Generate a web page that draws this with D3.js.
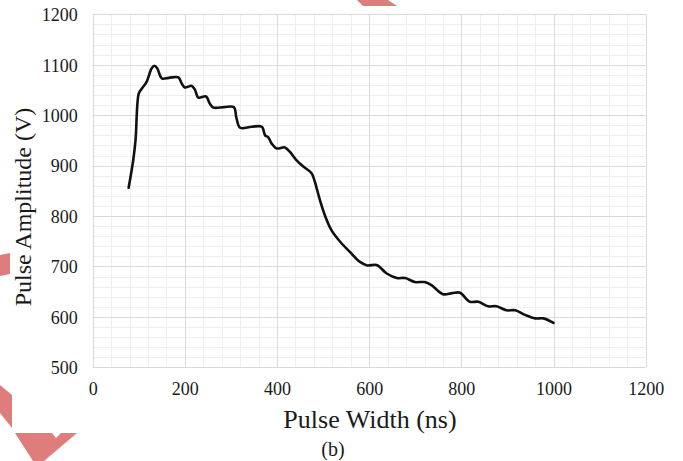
<!DOCTYPE html>
<html>
<head>
<meta charset="utf-8">
<script src="https://cdn.jsdelivr.net/npm/d3@7"></script>
<style>
  html, body { margin: 0; padding: 0; background: #fff; }
  svg { display: block; }
  text { font-family: "Liberation Serif", "Times New Roman", serif; fill: #1a1a1a; }
</style>
</head>
<body>
<svg id="chart" width="683" height="461"></svg>
<script>
// ---- data ----
const pulseWidth = [78, 88, 93, 100, 106, 117, 128, 134, 140, 150, 165, 186, 193, 200, 215, 222, 229, 246, 254, 262, 285, 306, 312, 320, 345, 367, 374, 381, 388, 399, 417, 428, 442, 457, 475, 482, 493, 504, 518, 537, 558, 580, 596, 616, 638, 660, 678, 699, 720, 735, 760, 780, 797, 818, 837, 858, 876, 898, 917, 938, 960, 978, 1000];
const pulseAmplitude = [856, 911, 951, 1043, 1052, 1066, 1093, 1098, 1093, 1073, 1074, 1075, 1063, 1055, 1058, 1050, 1035, 1037, 1023, 1015, 1016, 1016, 994, 975, 977, 977, 960, 956, 944, 934, 936, 927, 911, 898, 885, 868, 832, 801, 772, 749, 729, 709, 702, 703, 686, 677, 677, 669, 669, 663, 645, 647, 648, 630, 630, 621, 621, 613, 613, 604, 597, 597, 588];
const xTicks = [0, 200, 400, 600, 800, 1000, 1200];
const yTicks = [500, 600, 700, 800, 900, 1000, 1100, 1200];
const xTitle = "Pulse Width (ns)";
const yTitle = "Pulse Amplitude (V)";
const caption = "(b)";

const svg = d3.select("#chart");

// decorative red shapes (background watermark fragments)
const deco = [
  [[357,0],[388,0],[397,6],[363,6]],
  [[0,255],[10,253],[10,274],[0,276]],
  [[0,385],[12,395],[12,428],[0,413]],
  [[15,433],[52,433],[56,438],[61,433],[77,433],[44,461],[33,461]]
];
svg.selectAll("polygon.deco").data(deco).enter().append("polygon")
  .attr("class","deco")
  .attr("points", d => d.map(p => p.join(",")).join(" "))
  .attr("fill", "#df7c7c");

const x = d3.scaleLinear().domain([0, 1200]).range([92.7, 645.7]);
const y = d3.scaleLinear().domain([500, 1200]).range([367.3, 14.3]);

const g = svg.append("g");

// minor grid
const xMinor = d3.range(0, 1201, 40).filter(v => v % 200 !== 0);
const yMinor = d3.range(500, 1201, 20).filter(v => v % 100 !== 0);
g.selectAll("line.xm").data(xMinor).enter().append("line")
  .attr("x1", d => Math.round(x(d)) + 0.5).attr("x2", d => Math.round(x(d)) + 0.5)
  .attr("y1", y(1200)).attr("y2", y(500))
  .attr("stroke", "#eeeeee").attr("stroke-width", 1);
g.selectAll("line.ym").data(yMinor).enter().append("line")
  .attr("y1", d => Math.round(y(d)) + 0.5).attr("y2", d => Math.round(y(d)) + 0.5)
  .attr("x1", x(0)).attr("x2", x(1200))
  .attr("stroke", "#eeeeee").attr("stroke-width", 1);

// major grid
g.selectAll("line.xM").data(xTicks).enter().append("line")
  .attr("x1", d => Math.round(x(d)) + 0.5).attr("x2", d => Math.round(x(d)) + 0.5)
  .attr("y1", y(1200)).attr("y2", y(500))
  .attr("stroke", "#d9d9d9").attr("stroke-width", 1);
g.selectAll("line.yM").data(yTicks).enter().append("line")
  .attr("y1", d => Math.round(y(d)) + 0.5).attr("y2", d => Math.round(y(d)) + 0.5)
  .attr("x1", x(0)).attr("x2", x(1200))
  .attr("stroke", "#d9d9d9").attr("stroke-width", 1);

// axes (labels only)
const xAxis = d3.axisBottom(x).tickValues(xTicks).tickSize(0).tickPadding(0).tickFormat(d3.format("d"));
const gx = svg.append("g").attr("transform", `translate(0,${y(500)})`).call(xAxis);
gx.select(".domain").remove();
gx.selectAll("text").attr("font-size", 18).attr("font-family", "Liberation Serif")
  .attr("fill", "#1a1a1a").attr("dy", null).attr("y", 28);

const yAxis = d3.axisLeft(y).tickValues(yTicks).tickSize(0).tickPadding(0).tickFormat(d3.format("d"));
const gy = svg.append("g").attr("transform", `translate(${x(0)},0)`).call(yAxis);
gy.select(".domain").remove();
gy.selectAll("text").attr("font-size", 18).attr("font-family", "Liberation Serif")
  .attr("fill", "#1a1a1a").attr("x", -15).attr("dy", "0.35em");

// line
const pts = pulseWidth.map((v, i) => [v, pulseAmplitude[i]]);
const line = d3.line().x(d => x(d[0])).y(d => y(d[1])).curve(d3.curveCatmullRom.alpha(0.5));
svg.append("path").datum(pts).attr("d", line)
  .attr("fill", "none").attr("stroke", "#111").attr("stroke-width", 2.6)
  .attr("stroke-linejoin", "round").attr("stroke-linecap", "round");

// titles
svg.append("text").attr("x", 370).attr("y", 428).attr("text-anchor", "middle")
  .attr("font-size", 26).text(xTitle);
svg.append("text").attr("transform", "translate(31,207) rotate(-90)")
  .attr("text-anchor", "middle").attr("font-size", 24).text(yTitle);
svg.append("text").attr("x", 333).attr("y", 456).attr("text-anchor", "middle")
  .attr("font-size", 20).text(caption);
</script>
</body>
</html>
